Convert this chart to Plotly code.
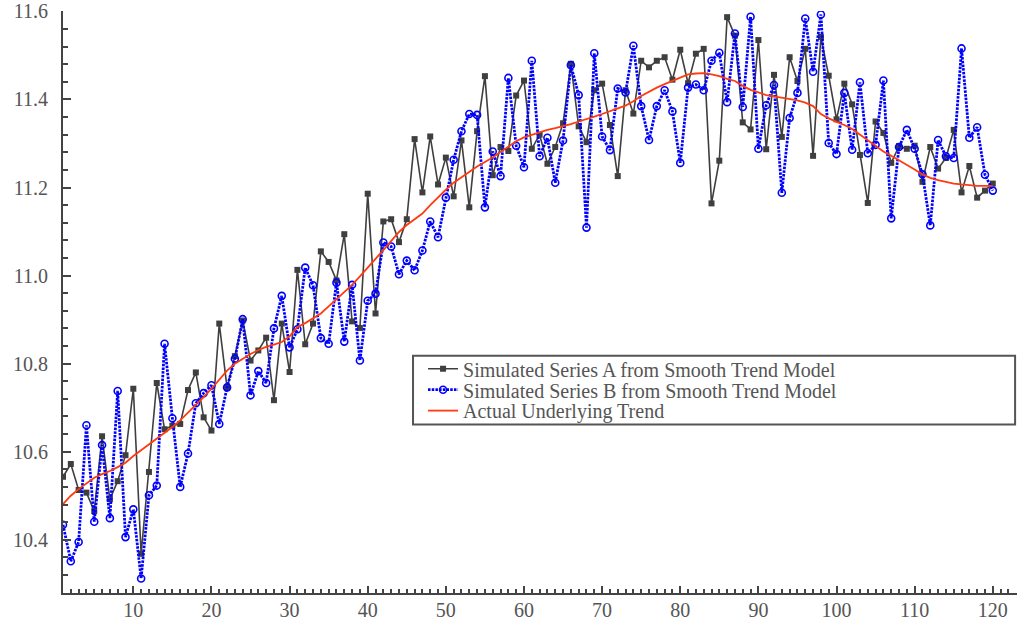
import plotly.graph_objects as go

t = list(range(1, 121))

series_a = [
    10.543, 10.572, 10.513, 10.507, 10.465, 10.635, 10.492, 10.533, 10.592, 10.743,
    10.368, 10.554, 10.756, 10.651, 10.659, 10.663, 10.740, 10.780, 10.678, 10.648,
    10.891, 10.745, 10.817, 10.898, 10.807, 10.830, 10.859, 10.717, 10.891, 10.781,
    11.013, 10.844, 10.891, 11.055, 11.031, 10.989, 11.094, 10.896, 10.881, 11.186,
    10.914, 11.123, 11.128, 11.076, 11.128, 11.310, 11.189, 11.316, 11.207, 11.268,
    11.180, 11.307, 11.155, 11.328, 11.453, 11.228, 11.292, 11.283, 11.409, 11.443,
    11.288, 11.320, 11.254, 11.292, 11.346, 11.481, 11.339, 11.303, 11.421, 11.436,
    11.342, 11.226, 11.421, 11.368, 11.488, 11.473, 11.488, 11.496, 11.445, 11.513,
    11.437, 11.504, 11.515, 11.164, 11.261, 11.587, 11.545, 11.348, 11.332, 11.535,
    11.287, 11.456, 11.315, 11.496, 11.442, 11.515, 11.272, 11.542, 11.454, 11.355,
    11.436, 11.389, 11.274, 11.165, 11.350, 11.324, 11.256, 11.294, 11.288, 11.295,
    11.213, 11.292, 11.243, 11.267, 11.331, 11.189, 11.249, 11.177, 11.193, 11.209,
]

series_b = [
    10.434, 10.351, 10.395, 10.660, 10.441, 10.615, 10.449, 10.738, 10.406, 10.469,
    10.312, 10.501, 10.523, 10.845, 10.676, 10.520, 10.596, 10.710, 10.733, 10.751,
    10.663, 10.746, 10.811, 10.901, 10.728, 10.783, 10.756, 10.880, 10.954, 10.837,
    10.878, 11.018, 10.978, 10.858, 10.845, 10.984, 10.850, 10.979, 10.807, 10.943,
    10.959, 11.075, 11.066, 11.003, 11.034, 11.012, 11.057, 11.123, 11.087, 11.177,
    11.263, 11.328, 11.367, 11.365, 11.155, 11.282, 11.226, 11.449, 11.295, 11.246,
    11.488, 11.271, 11.313, 11.211, 11.307, 11.478, 11.410, 11.109, 11.505, 11.316,
    11.285, 11.425, 11.416, 11.522, 11.385, 11.308, 11.385, 11.421, 11.373, 11.256,
    11.427, 11.434, 11.421, 11.488, 11.506, 11.394, 11.550, 11.383, 11.588, 11.288,
    11.387, 11.433, 11.188, 11.358, 11.415, 11.584, 11.463, 11.593, 11.301, 11.276,
    11.415, 11.286, 11.439, 11.278, 11.297, 11.443, 11.130, 11.292, 11.331, 11.288,
    11.230, 11.114, 11.308, 11.271, 11.267, 11.516, 11.313, 11.337, 11.229, 11.193,
]

trend = [
    10.481, 10.500, 10.515, 10.528, 10.541, 10.549, 10.556, 10.565, 10.575, 10.590,
    10.603, 10.615, 10.630, 10.641, 10.656, 10.671, 10.688, 10.705, 10.724, 10.743,
    10.764, 10.784, 10.800, 10.812, 10.822, 10.831, 10.838, 10.843, 10.849, 10.862,
    10.883, 10.892, 10.903, 10.914, 10.930, 10.946, 10.963, 10.979, 10.998, 11.017,
    11.038, 11.058, 11.079, 11.099, 11.115, 11.128, 11.141, 11.160, 11.178, 11.195,
    11.211, 11.224, 11.236, 11.248, 11.258, 11.268, 11.281, 11.294, 11.305, 11.314,
    11.320, 11.326, 11.331, 11.335, 11.339, 11.344, 11.350, 11.355, 11.361, 11.367,
    11.374, 11.380, 11.386, 11.396, 11.408, 11.418, 11.427, 11.435, 11.442, 11.450,
    11.457, 11.459, 11.460, 11.457, 11.453, 11.447, 11.442, 11.431, 11.422, 11.416,
    11.410, 11.407, 11.404, 11.401, 11.398, 11.393, 11.385, 11.367, 11.357, 11.349,
    11.342, 11.333, 11.320, 11.308, 11.294, 11.282, 11.272, 11.262, 11.252, 11.241,
    11.230, 11.222, 11.217, 11.213, 11.209, 11.207, 11.205, 11.204, 11.204, 11.204,
]

x_ticks = [10, 20, 30, 40, 50, 60, 70, 80, 90, 100, 110, 120]
y_ticks = [10.4, 10.6, 10.8, 11.0, 11.2, 11.4, 11.6]

AXIS_GRAY = "#444444"
LABEL_GRAY = "#555555"
FONT = "Liberation Serif, Times New Roman, serif"

fig = go.Figure()

fig.add_trace(go.Scatter(
    x=t, y=series_a, mode="lines+markers",
    name="Simulated Series A from Smooth Trend Model",
    line=dict(color="#3f3f3f", width=1.6),
    marker=dict(symbol="square", size=6, color="#3f3f3f"),
    legend="legend",
))

fig.add_trace(go.Scatter(
    x=t, y=series_b, mode="lines+markers",
    name="Simulated Series B from Smooth Trend Model",
    line=dict(color="#0000ff", width=2.8, dash="2.5px,1.2px"),
    marker=dict(symbol="circle-open", size=7, color="#0000ff", line=dict(width=1.6)),
    legend="legend2",
))

fig.add_trace(go.Scatter(
    x=t, y=trend, mode="lines",
    name="Actual Underlying Trend",
    line=dict(color="#ff3a10", width=1.8),
    legend="legend3",
))

# One legend per row so the entries sit close together inside a single framed box
legend_style = dict(
    x=0.3774, xanchor="left", yanchor="middle",
    bgcolor="rgba(0,0,0,0)", borderwidth=0,
    font=dict(family=FONT, size=20, color=LABEL_GRAY),
    itemclick=False, itemdoubleclick=False,
)

fig.update_layout(
    width=1017, height=624,
    margin=dict(l=63, r=0, t=9, b=31),
    paper_bgcolor="white", plot_bgcolor="white",
    font=dict(family=FONT, size=20, color=LABEL_GRAY),
    showlegend=True,
    legend=dict(y=0.3853, **legend_style),
    legend2=dict(y=0.3493, **legend_style),
    legend3=dict(y=0.3134, **legend_style),
    shapes=[dict(
        type="rect", xref="paper", yref="paper",
        x0=0.3669, x1=0.998, y0=0.2894, y1=0.4075,
        line=dict(color="#555555", width=2), fillcolor="white", layer="above",
    )],
)

fig.update_xaxes(
    range=[1, 123.1], tickvals=x_ticks, ticktext=[str(v) for v in x_ticks],
    showgrid=False, zeroline=False,
    showline=True, linecolor=AXIS_GRAY, linewidth=2,
    ticks="inside", ticklen=7, tickwidth=1.5, tickcolor=AXIS_GRAY,
    ticklabelstandoff=-2, ticklabeloverflow="allow",
    minor=dict(dtick=1, tick0=0, ticks="inside", ticklen=4, tickwidth=1.5,
               tickcolor=AXIS_GRAY, showgrid=False),
    tickfont=dict(family=FONT, size=20, color=LABEL_GRAY),
)

fig.update_yaxes(
    range=[10.279, 11.601], tickvals=y_ticks, ticktext=["%.1f" % v for v in y_ticks],
    showgrid=False, zeroline=False,
    showline=True, linecolor=AXIS_GRAY, linewidth=2,
    ticks="inside", ticklen=8, tickwidth=1.5, tickcolor=AXIS_GRAY,
    ticklabelstandoff=9, ticklabeloverflow="allow",
    minor=dict(dtick=0.04, tick0=10.4, ticks="inside", ticklen=5, tickwidth=1.5,
               tickcolor=AXIS_GRAY, showgrid=False),
    tickfont=dict(family=FONT, size=20, color=LABEL_GRAY),
)

fig.write_html("out.html")
